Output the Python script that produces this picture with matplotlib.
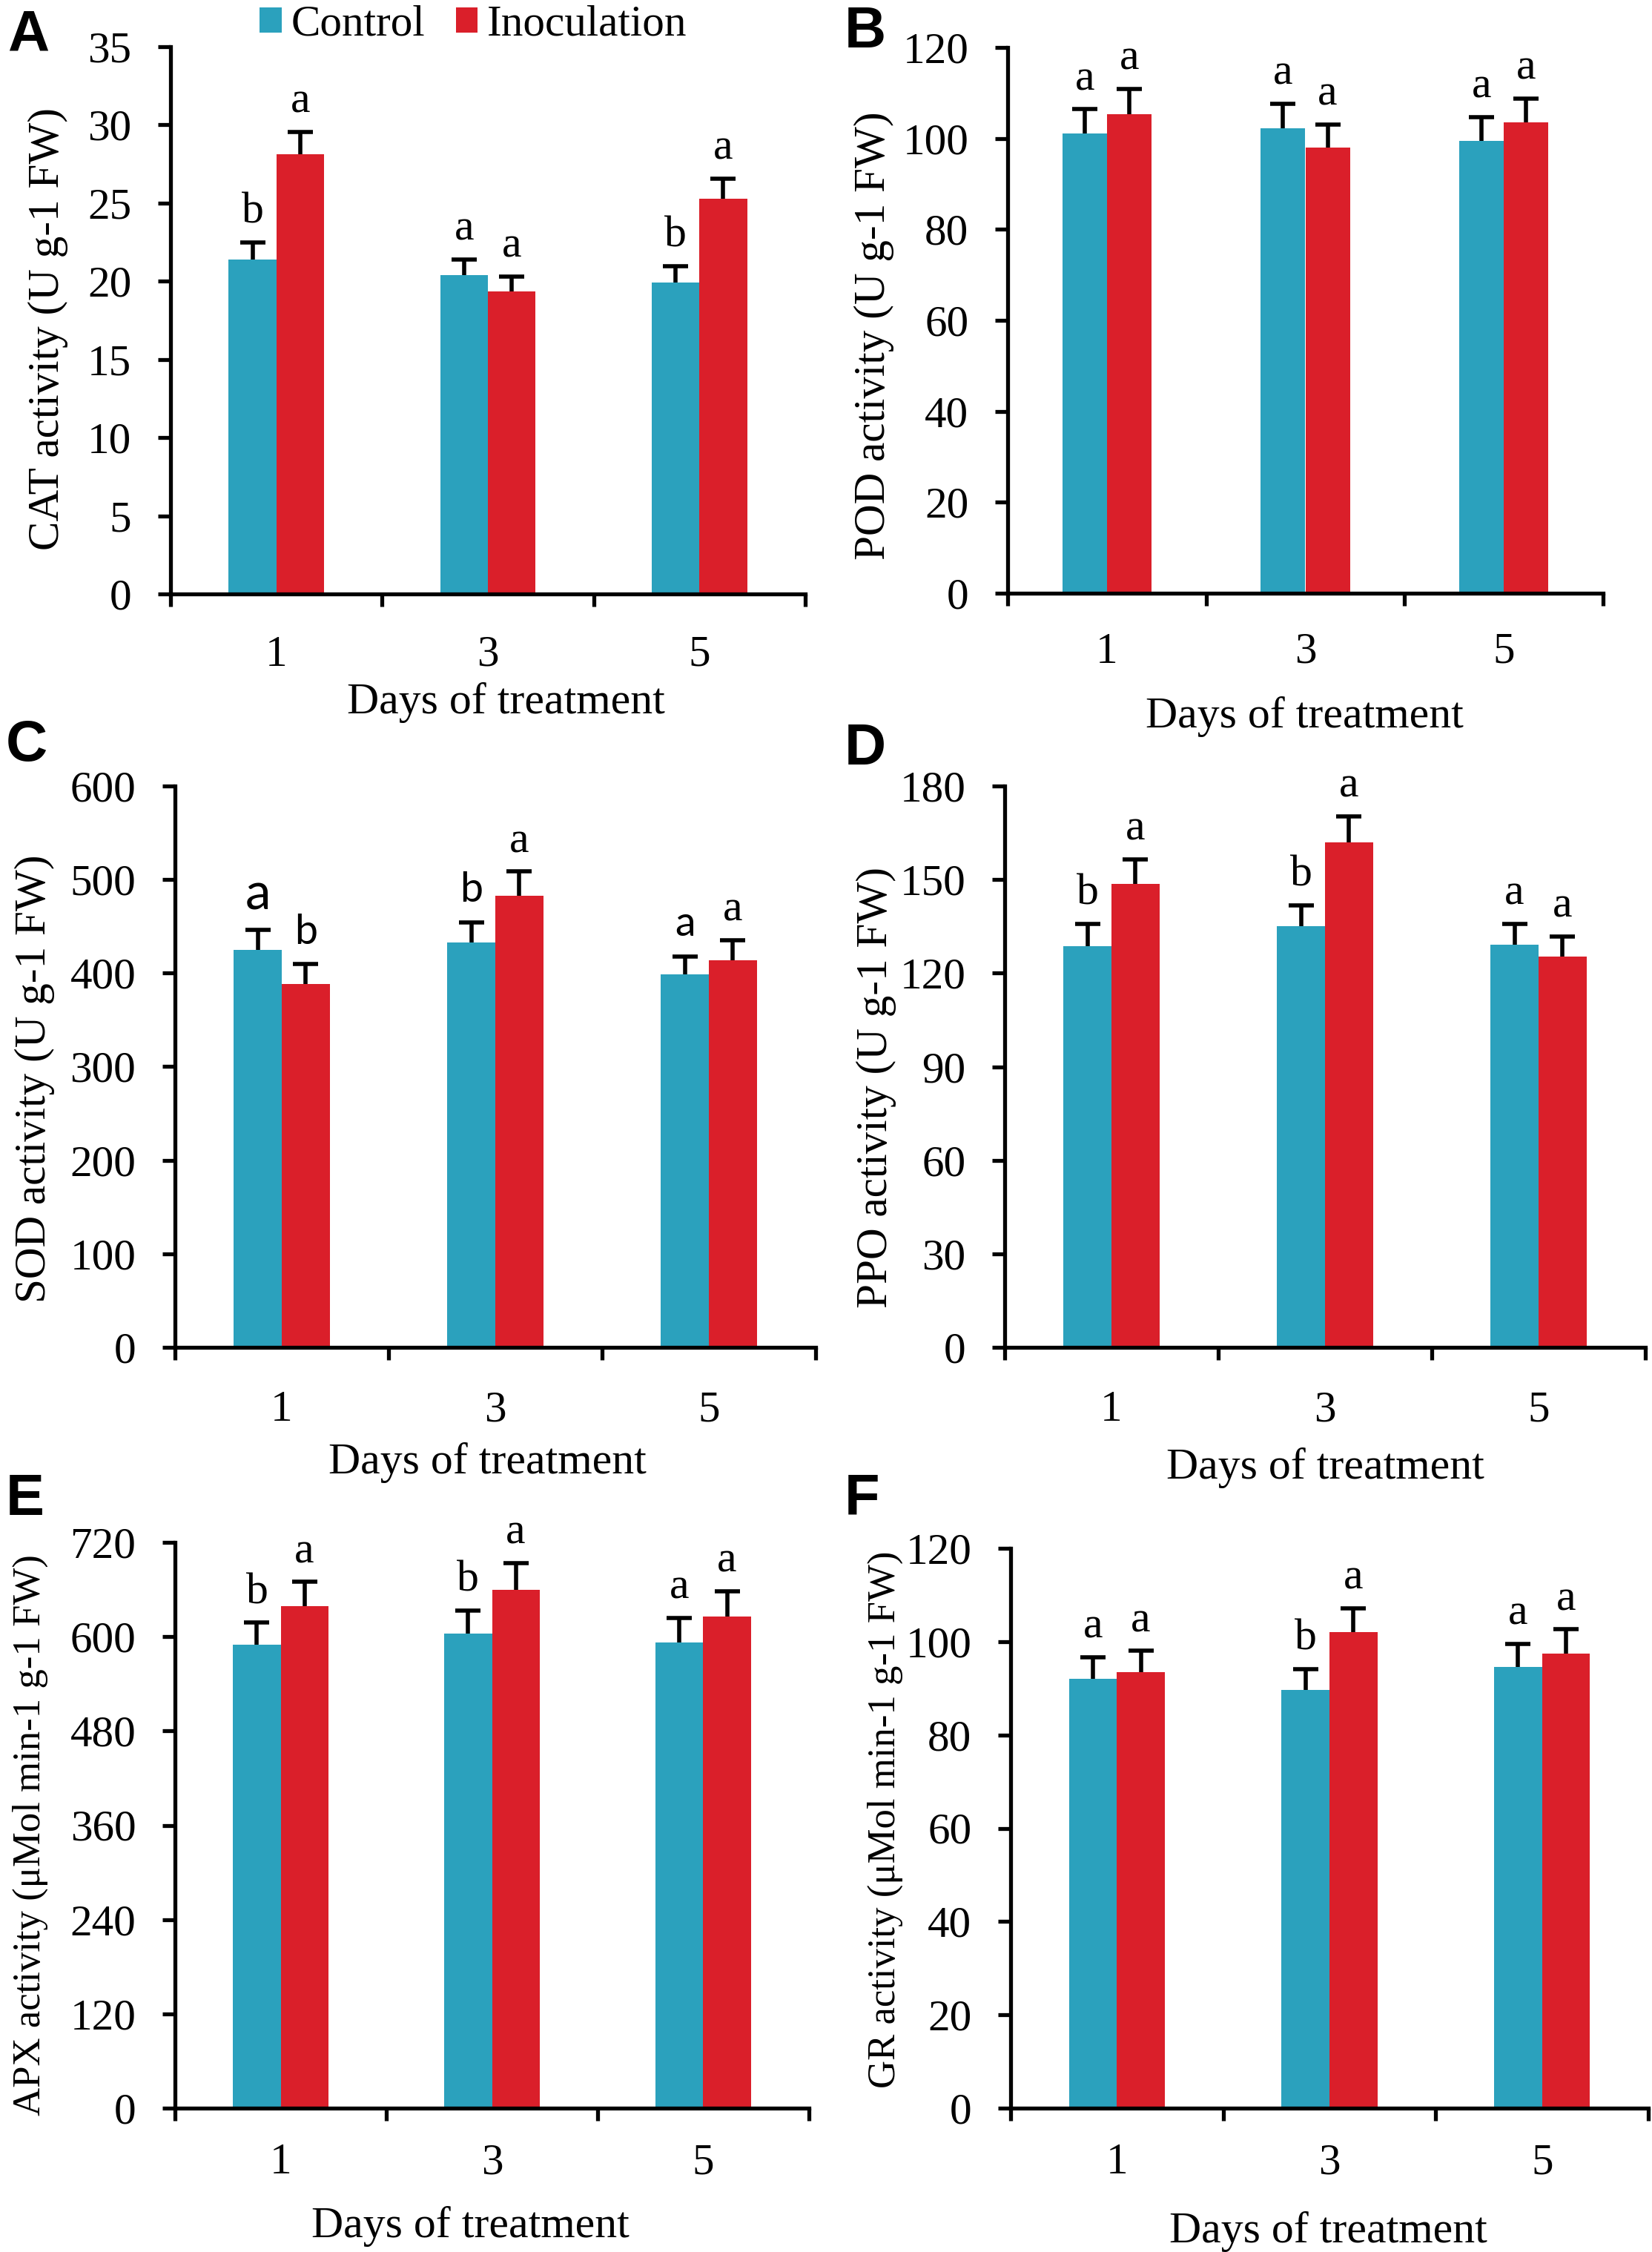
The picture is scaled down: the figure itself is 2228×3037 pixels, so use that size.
import numpy as np
import matplotlib.pyplot as plt

plt.rcParams["font.family"] = ["Liberation Serif", "DejaVu Serif"]

# ===== data =====
days = ["1", "3", "5"]
series_names = ["Control", "Inoculation"]

cat_ctrl = [21.4, 20.4, 19.9]
cat_ctrl_err = [1.1, 1.0, 1.05]
cat_inoc = [28.1, 19.35, 25.3]
cat_inoc_err = [1.45, 0.95, 1.25]
cat_ctrl_sig = ["b", "a", "b"]
cat_inoc_sig = ["a", "a", "a"]

pod_ctrl = [101.1, 102.3, 99.5]
pod_ctrl_err = [5.3, 5.3, 5.2]
pod_inoc = [105.4, 98.0, 103.5]
pod_inoc_err = [5.5, 5.0, 5.2]
pod_ctrl_sig = ["a", "a", "a"]
pod_inoc_sig = ["a", "a", "a"]

sod_ctrl = [425.0, 432.5, 398.5]
sod_ctrl_err = [21, 22, 19]
sod_inoc = [388.5, 482.5, 413.5]
sod_inoc_err = [21, 26, 22]
sod_ctrl_sig = ["a", "b", "a"]
sod_inoc_sig = ["b", "a", "a"]

ppo_ctrl = [128.7, 135.1, 129.0]
ppo_ctrl_err = [7.0, 6.7, 6.7]
ppo_inoc = [148.5, 161.9, 125.2]
ppo_inoc_err = [8.0, 8.3, 6.5]
ppo_ctrl_sig = ["b", "b", "a"]
ppo_inoc_sig = ["a", "a", "a"]

apx_ctrl = [589.7, 603.5, 592.2]
apx_ctrl_err = [28, 30, 32]
apx_inoc = [638.6, 659.3, 625.5]
apx_inoc_err = [31, 34.5, 32]
apx_ctrl_sig = ["b", "b", "a"]
apx_inoc_sig = ["a", "a", "a"]

gr_ctrl = [92.1, 89.7, 94.6]
gr_ctrl_err = [4.6, 4.4, 4.9]
gr_inoc = [93.4, 102.0, 97.4]
gr_inoc_err = [4.6, 5.2, 5.2]
gr_ctrl_sig = ["a", "b", "a"]
gr_inoc_sig = ["a", "a", "a"]

BLUE = "#2BA1BD"
RED = "#DA1F2A"

W, H = 2228, 3037
DPI = 200
fig = plt.figure(figsize=(W / DPI, H / DPI), dpi=DPI)

# panel: letter, ylabel, ymax, step, data, box(px l,t,r,b), letter pos, xlabel (cx, baseline), ylabel (baseline x, cy), ylabel size, xtick pad
panels = [
    ("A", "CAT activity (U g-1 FW)", 35, 5,
     (cat_ctrl, cat_ctrl_err, cat_inoc, cat_inoc_err, cat_ctrl_sig, cat_inoc_sig),
     (230, 63, 1086, 801), (10, 68), (682, 962), (79, 444), 21.3, 20),
    ("B", "POD activity (U g-1 FW)", 120, 20,
     (pod_ctrl, pod_ctrl_err, pod_inoc, pod_inoc_err, pod_ctrl_sig, pod_inoc_sig),
     (1359, 64, 2162, 800), (1139, 64), (1759, 981), (1193, 453), 21.3, 19),
    ("C", "SOD activity (U g-1 FW)", 600, 100,
     (sod_ctrl, sod_ctrl_err, sod_inoc, sod_inoc_err, sod_ctrl_sig, sod_inoc_sig),
     (236, 1060, 1100, 1817), (8, 1026), (657, 1987), (61, 1455), 21.3, 21),
    ("D", "PPO activity (U g-1 FW)", 180, 30,
     (ppo_ctrl, ppo_ctrl_err, ppo_inoc, ppo_inoc_err, ppo_ctrl_sig, ppo_inoc_sig),
     (1355, 1060, 2219, 1817), (1139, 1031), (1787, 1994), (1196, 1466), 21.3, 21),
    ("E", "APX activity (\u03bcMol min-1 g-1 FW)", 720, 120,
     (apx_ctrl, apx_ctrl_err, apx_inoc, apx_inoc_err, apx_ctrl_sig, apx_inoc_sig),
     (236, 2080, 1091, 2843), (8, 2043), (634, 3017), (54, 2475), 19, 17),
    ("F", "GR activity (\u03bcMol min-1 g-1 FW)", 120, 20,
     (gr_ctrl, gr_ctrl_err, gr_inoc, gr_inoc_err, gr_ctrl_sig, gr_inoc_sig),
     (1363, 2088, 2223, 2843), (1139, 2043), (1791, 3024), (1207, 2454), 19, 17),
]

# letters in panel C that were typed in a sans font
sans_letters = {("C", 0, 0): 25, ("C", 0, 1): 20, ("C", 0, 2): 20, ("C", 1, 0): 20}

x = np.arange(len(days))
bw = 0.225
handles = None

for (letter, ylab, ymax, step, data, box, lpos, xl, yl, ylsize, xpad) in panels:
    l, t, r, b = box
    ax = fig.add_axes([l / W, 1 - b / H, (r - l) / W, (b - t) / H])
    ctrl, ctrl_err, inoc, inoc_err, ctrl_sig, inoc_sig = data

    b1 = ax.bar(x - bw / 2, ctrl, bw, color=BLUE, label=series_names[0], zorder=2)
    b2 = ax.bar(x + bw / 2, inoc, bw, color=RED, label=series_names[1], zorder=2)
    if handles is None:
        handles = [b1, b2]

    for si, (xs, v, e, sig) in enumerate([(x - bw / 2, ctrl, ctrl_err, ctrl_sig),
                                          (x + bw / 2, inoc, inoc_err, inoc_sig)]):
        v = np.array(v, dtype=float)
        e = np.array(e, dtype=float)
        ax.errorbar(xs, v, yerr=[np.zeros_like(e), e], fmt="none", ecolor="black",
                    elinewidth=2.0, capsize=0, zorder=3)
        ax.plot(xs, v + e, ls="none", marker="_", ms=12, mew=2.0, color="black", zorder=3)
        for i, (xi, top, s) in enumerate(zip(xs, v + e, sig)):
            key = (letter, si, i)
            if key in sans_letters:
                ax.annotate(s, (xi, top), xytext=(0, 10), textcoords="offset points",
                            ha="center", va="baseline", fontsize=sans_letters[key],
                            family=["Lato", "DejaVu Sans"], annotation_clip=False)
            else:
                ax.annotate(s, (xi, top), xytext=(0, 9.5), textcoords="offset points",
                            ha="center", va="baseline", fontsize=21.5, annotation_clip=False)

    ax.set_xlim(-0.5, 2.5)
    ax.set_ylim(0, ymax)
    ax.set_yticks(np.arange(0, ymax + step / 2, step))
    ax.set_xticks([-0.5, 0.5, 1.5, 2.5])
    ax.set_xticklabels([])
    ax.set_xticks(x, minor=True)
    ax.set_xticklabels(days, minor=True)
    ax.tick_params(axis="x", which="minor", length=0, pad=xpad, labelsize=21.3)
    ax.tick_params(axis="x", which="major", length=6, width=1.9, direction="out")
    ax.tick_params(axis="y", length=6, width=1.9, direction="out", pad=13, labelsize=21.3)
    for s in ["top", "right"]:
        ax.spines[s].set_visible(False)
    for s in ["left", "bottom"]:
        ax.spines[s].set_linewidth(1.9)

    ax.set_xlabel("Days of treatment", fontsize=21.5)
    ax.xaxis.label.set_va("baseline")
    ax.xaxis.set_label_coords((xl[0] - l) / (r - l), (b - xl[1]) / (b - t))

    ax.set_ylabel(ylab, fontsize=ylsize)
    ax.yaxis.label.set_va("baseline")
    ax.yaxis.set_label_coords((yl[0] - l) / (r - l), (b - yl[1]) / (b - t))

    fig.text(lpos[0] / W, 1 - lpos[1] / H, letter, family=["Liberation Sans", "DejaVu Sans"],
             fontweight="bold", fontsize=28, ha="left", va="baseline")

fig.legend(handles, series_names, loc="center left",
           bbox_to_anchor=(350 / W, 1 - 34 / H), ncol=2, frameon=False,
           borderpad=0, borderaxespad=0, handlelength=0.5, handleheight=0.5,
           handletextpad=0.22, columnspacing=0.7, fontsize=21.3)

fig.savefig("out.png", dpi=DPI)
